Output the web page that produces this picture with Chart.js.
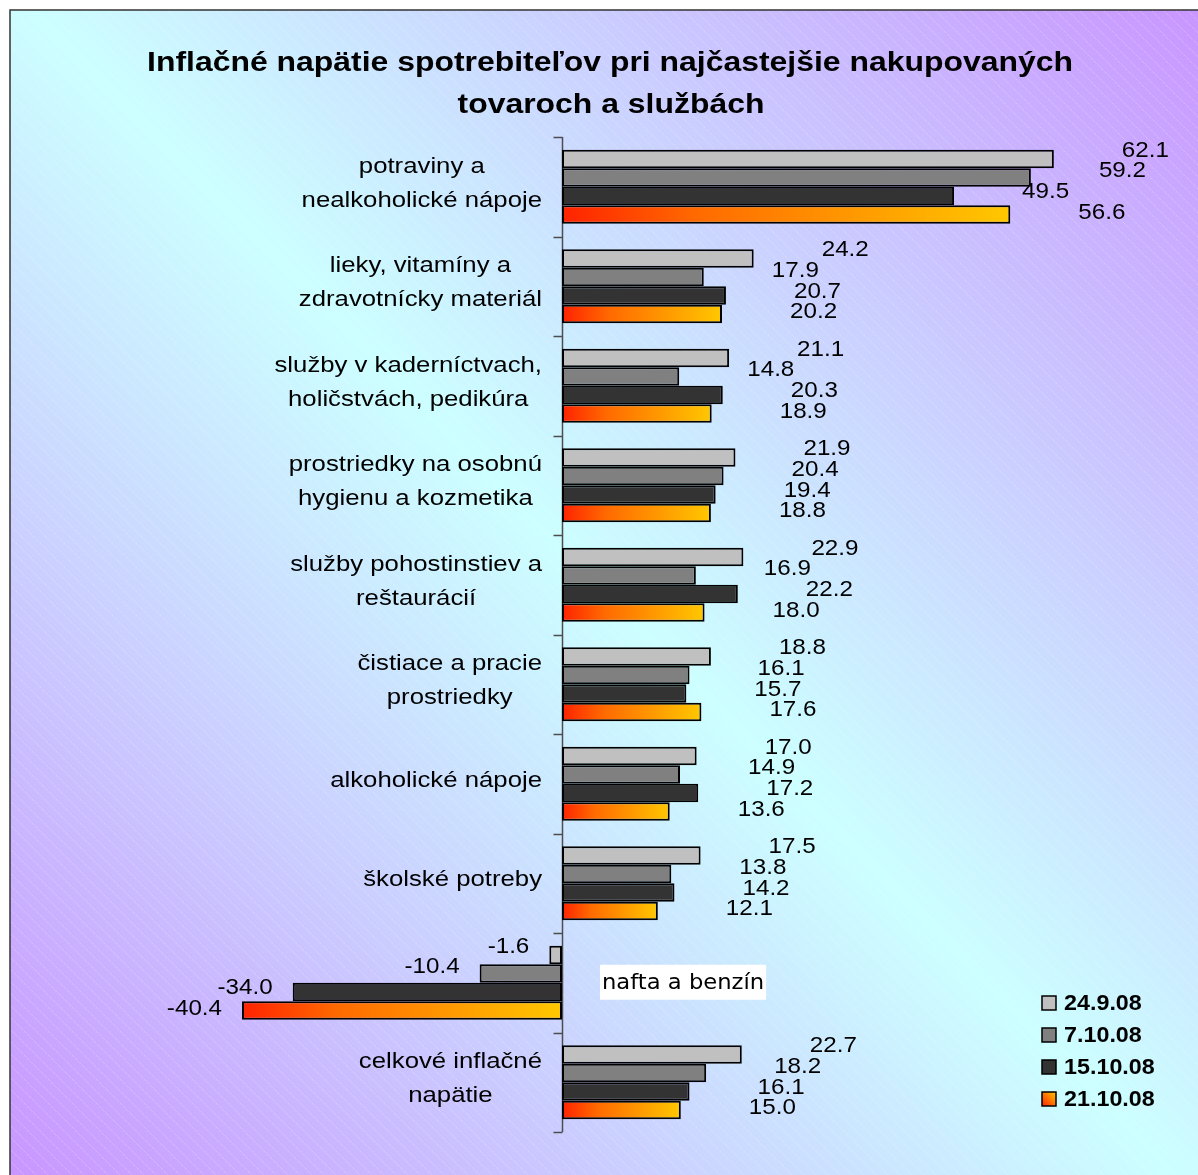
<!DOCTYPE html>
<html>
<head>
<meta charset="utf-8">
<script src="https://cdn.jsdelivr.net/npm/chart.js@4.4.0/dist/chart.umd.min.js"></script>
<style>
    html, body { margin: 0; padding: 0; background: #fff; }
    canvas { display: block; }
</style>
</head>
<body>
<canvas id="inflaciaChart" width="1198" height="1175"></canvas>
<script>
// kategórie tovarov a služieb (riadky grafu)
const kategorie = [
    ['potraviny a', 'nealkoholické nápoje'],
    ['lieky, vitamíny a', 'zdravotnícky materiál'],
    ['služby v kaderníctvach,', 'holičstvách, pedikúra'],
    ['prostriedky na osobnú', 'hygienu a kozmetika'],
    ['služby pohostinstiev a', 'reštaurácií'],
    ['čistiace a pracie', 'prostriedky'],
    ['alkoholické nápoje'],
    ['školské potreby'],
    ['nafta a benzín'],
    ['celkové inflačné', 'napätie']
];

// dátumy prieskumu (legenda)
const datumy = ['24.9.08', '7.10.08', '15.10.08', '21.10.08'];

// hodnoty pre jednotlivé dátumy
const hodnoty_24_9 = [62.1, 24.2, 21.1, 21.9, 22.9, 18.8, 17.0, 17.5, -1.6, 22.7];
const hodnoty_7_10 = [59.2, 17.9, 14.8, 20.4, 16.9, 16.1, 14.9, 13.8, -10.4, 18.2];
const hodnoty_15_10 = [49.5, 20.7, 20.3, 19.4, 22.2, 15.7, 17.2, 14.2, -34.0, 16.1];
const hodnoty_21_10 = [56.6, 20.2, 18.9, 18.8, 18.0, 17.6, 13.6, 12.1, -40.4, 15.0];

const titulok = ['Inflačné napätie spotrebiteľov pri najčastejšie nakupovaných', 'tovaroch a službách'];


const PISMO = "'Liberation Sans', Arial, sans-serif";

// oranžová výplň posledného radu - prechod od červenej po žltú
function oranzovaVypln(context) {
    const chart = context.chart;
    const x = chart.scales.x;
    if (context.type !== 'data' || !x || !chart.chartArea) return '#ff8c00';
    const v = context.raw;
    const x0 = x.getPixelForValue(Math.min(0, v));
    const x1 = x.getPixelForValue(Math.max(0, v));
    if (!isFinite(x0) || !isFinite(x1) || x1 - x0 < 1) return '#ff8c00';
    const g = chart.ctx.createLinearGradient(x0, 0, x1, 0);
    g.addColorStop(0, '#ff2200');
    g.addColorStop(0.3, '#ff6a00');
    g.addColorStop(1, '#ffc800');
    return g;
}

const farby = ['#c0c0c0', '#808080', '#333333', oranzovaVypln];
const serie = [hodnoty_24_9, hodnoty_7_10, hodnoty_15_10, hodnoty_21_10];


// text roztiahnutý do šírky (ako v pôvodnom grafe z Excelu)
function sirokyText(ctx, t, x, y, sx, zarovnanie) {
    const w = ctx.measureText(t).width * sx;
    let lx = x;
    if (zarovnanie === 'center') lx = x - w / 2;
    else if (zarovnanie === 'right') lx = x - w;
    ctx.save();
    ctx.textAlign = 'left';
    ctx.translate(lx, y);
    ctx.scale(sx, 1);
    ctx.fillText(t, 0, 0);
    ctx.restore();
    return w;
}


// pozadie, titulok, os, popisy a legenda
const dekoracia = {
    id: 'dekoracia',
    beforeDraw(chart) {
        const ctx = chart.ctx;
        const W = chart.width, H = chart.height;
        ctx.save();
        ctx.fillStyle = '#ffffff';
        ctx.fillRect(0, 0, W, H);

        // diagonálny prechod fialová - tyrkysová - fialová
        const g = ctx.createLinearGradient(10, H, W, 10);
        g.addColorStop(0, '#c996ff');
        g.addColorStop(0.5, '#ccffff');
        g.addColorStop(1, '#c996ff');
        ctx.fillStyle = g;
        ctx.fillRect(10, 10, W, H);

        // jemné bodkované šikmé čiary
        ctx.beginPath();
        ctx.rect(11, 11, W, H);
        ctx.clip();
        ctx.strokeStyle = 'rgba(255,255,255,0.35)';
        ctx.lineWidth = 1;
        ctx.setLineDash([1, 1]);
        ctx.beginPath();
        for (let s = -H; s < W; s += 12) {
            ctx.moveTo(s, 0);
            ctx.lineTo(s + H, H);
        }
        ctx.stroke();
        ctx.restore();

        // rám
        ctx.save();
        ctx.strokeStyle = '#333333';
        ctx.lineWidth = 1.5;
        ctx.strokeRect(10, 10, W + 10, H + 10);
        ctx.restore();

        // titulok
        ctx.save();
        ctx.fillStyle = '#000';
        ctx.font = "bold 28px " + PISMO;
        ctx.textBaseline = 'middle';
        sirokyText(ctx, titulok[0], 610, 63, 1.14, 'center');
        sirokyText(ctx, titulok[1], 611, 105, 1.14, 'center');
        ctx.restore();
    },
    beforeDatasetsDraw(chart) {
        const ctx = chart.ctx;
        const x = chart.scales.x, y = chart.scales.y;
        const x0 = Math.round(x.getPixelForValue(0)) + 0.5;
        ctx.save();
        ctx.strokeStyle = '#4d4d4d';
        ctx.lineWidth = 1.5;
        ctx.beginPath();
        ctx.moveTo(x0, chart.chartArea.top);
        ctx.lineTo(x0, chart.chartArea.bottom);
        for (let j = 0; j <= kategorie.length; j++) {
            const ty = Math.round(y.getPixelForValue(j - 0.5)) + 0.5;
            ctx.moveTo(x0 - 9, ty);
            ctx.lineTo(x0, ty);
        }
        ctx.stroke();
        ctx.restore();
    },
    afterDatasetsDraw(chart) {
        const ctx = chart.ctx;
        const x = chart.scales.x, y = chart.scales.y;
        const x0 = x.getPixelForValue(0);
        ctx.save();
        ctx.fillStyle = '#000';
        ctx.textBaseline = 'middle';

        // popisy kategórií
        ctx.font = "22px " + PISMO;
        const sxKat = 1.17;
        kategorie.forEach((riadky, j) => {
            const cy = y.getPixelForValue(j);
            const zaporne = serie.every(s => s[j] < 0);
            if (zaporne) {
                // pri záporných hodnotách je popis vpravo na bielom podklade
                ctx.save();
                ctx.font = "22px 'DejaVu Sans', sans-serif";
                const w = ctx.measureText(riadky[0]).width * 1.03;
                const lx = x0 + 40;
                ctx.fillStyle = '#ffffff';
                ctx.fillRect(lx - 2, cy - 18, w + 4, 35);
                ctx.fillStyle = '#000';
                sirokyText(ctx, riadky[0], lx, cy + 1, 1.03, 'left');
                ctx.restore();
                return;
            }
            const maxW = Math.max(...riadky.map(r => ctx.measureText(r).width)) * sxKat;
            const cx = x0 - 20 - maxW / 2;
            const lh = 34;
            const start = cy - (riadky.length - 1) * lh / 2 - 3;
            riadky.forEach((r, k) => sirokyText(ctx, r, cx, start + k * lh, sxKat, 'center'));
        });

        // hodnoty pri stĺpcoch (trochu rozložené nad sebou ako v origináli)
        ctx.font = "22px " + PISMO;
        chart.data.datasets.forEach((ds, i) => {
            const meta = chart.getDatasetMeta(i);
            meta.data.forEach((bar, j) => {
                const v = ds.data[j];
                const txt = v.toFixed(1);
                const cy = y.getPixelForValue(j);
                const ly = cy + (bar.y - cy) * 1.12 - 5;
                if (v >= 0) {
                    sirokyText(ctx, txt, bar.x + 68, ly, 1.1, 'left');
                } else {
                    sirokyText(ctx, txt, bar.x - 20, ly, 1.1, 'right');
                }
            });
        });

        // legenda
        ctx.font = "bold 22px " + PISMO;
        chart.data.datasets.forEach((ds, i) => {
            const ly = 1003 + i * 32;
            let fill = farby[i];
            if (typeof fill === 'function') {
                const g = ctx.createLinearGradient(1042, ly + 7, 1056, ly - 7);
                g.addColorStop(0, '#ff2200');
                g.addColorStop(0.5, '#ff7400');
                g.addColorStop(1, '#ffc600');
                fill = g;
            }
            ctx.fillStyle = fill;
            ctx.fillRect(1042, ly - 7, 14, 14);
            ctx.strokeStyle = '#000';
            ctx.lineWidth = 1.5;
            ctx.strokeRect(1042, ly - 7, 14, 14);
            ctx.fillStyle = '#000';
            sirokyText(ctx, ds.label, 1064, ly + 1, 1.06, 'left');
        });
        ctx.restore();
    }
};


const ctx = document.getElementById('inflaciaChart').getContext('2d');
const inflaciaChart = new Chart(ctx, {
    type: 'bar',
    data: {
        labels: kategorie,
        datasets: datumy.map((d, i) => ({
            label: d,
            data: serie[i],
            backgroundColor: farby[i],
            borderColor: '#000000',
            borderWidth: 2,
            borderSkipped: false,
            barPercentage: 1,
            categoryPercentage: 0.745
        }))
    },
    options: {
        indexAxis: 'y',
        responsive: false,
        devicePixelRatio: 1,
        animation: false,
        layout: {
            padding: { top: 137, bottom: 43, left: 22, right: 8 }
        },
        plugins: {
            legend: { display: false },
            title: { display: false },
            tooltip: { enabled: false }
        },
        scales: {
            x: {
                type: 'linear',
                min: -68.18,
                max: 79.29,
                display: false
            },
            y: {
                display: false
            }
        }
    },
    plugins: [dekoracia]
});
</script>
</body>
</html>
